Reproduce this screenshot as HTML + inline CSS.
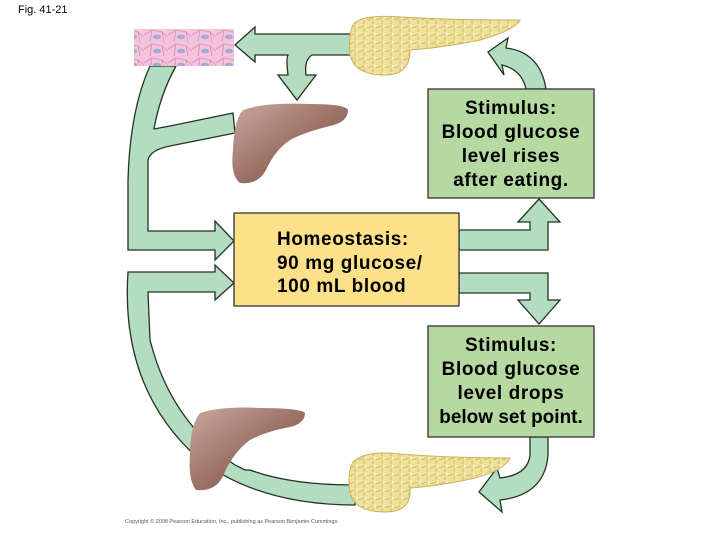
<!DOCTYPE html>
<html><head><meta charset="utf-8"><style>
body{margin:0;background:#fff;}
svg{display:block;}
text{font-family:"Liberation Sans",Arial,sans-serif;}
</style></head><body>
<svg width="720" height="540" viewBox="0 0 720 540" xmlns="http://www.w3.org/2000/svg">
<defs>
<pattern id="cells" width="24" height="14" patternUnits="userSpaceOnUse">
<rect width="24" height="14" fill="#f3c4dc"/>
<path d="M0 7 L8 2 L18 4 L24 9 M8 2 L6 14 M18 4 L20 14" stroke="#d98bb5" stroke-width="0.8" fill="none"/>
<ellipse cx="13" cy="9" rx="4" ry="2.3" fill="#a9a6d6"/>
</pattern>
<pattern id="panc" width="9" height="8" patternUnits="userSpaceOnUse">
<rect width="9" height="8" fill="#efe09a"/>
<path d="M0 4 Q4 0 9 4 M4 4 L4 8" stroke="#c9b25a" stroke-width="0.8" fill="none"/>
<circle cx="6" cy="2" r="1.2" fill="#fbf4cf"/>
</pattern>
<linearGradient id="liv" x1="0" y1="0" x2="1" y2="1">
<stop offset="0" stop-color="#c9a89e"/><stop offset="0.5" stop-color="#9d7367"/><stop offset="1" stop-color="#6f4a40"/>
</linearGradient>
</defs>
<g fill="#b4dcc0" stroke="#223322" stroke-width="1.3" stroke-linejoin="miter">
<path d="M355 34 L255 34 L255 27 L235 45 L255 62 L255 55 L288 55 Q286 58 288 75 L278 75 L297 100 L316 75 L306 75 Q304 60 312 55 L355 55 Z"/>
<path d="M150 66 Q130 110 128 180 L128 250 L215 250 L215 260 L234 241 L215 221 L215 231 L148 231 L148 160 Q150 150 170 146 L235 133 L233 113 L170 126 L154 129 Q160 95 176 66 Z"/>
<path d="M215 265 L215 272 L128 272 Q120 390 200 460 Q260 505 355 505 L355 485 Q290 485 250 470 L245 470 L235 465 Q170 420 150 340 L148 292 L215 292 L215 300 L234 283 Z"/>
<path d="M459 230 L530 230 L530 222 L518 222 L539 199 L560 222 L548 222 L548 250 L459 250 Z"/>
<path d="M459 273 L548 273 L548 300 L560 300 L539 324 L518 300 L530 300 L530 293 L459 293 Z"/>
<path d="M526 89 Q522 70 502 65 L504 75 L488 52 L508 38 L506 48 Q540 52 546 89 Z"/>
<path d="M530 437 L530 455 Q528 475 500 478 L497 468 L479 492 L502 512 L500 500 Q545 495 548 455 L548 437 Z"/>
</g>
<rect x="134" y="29" width="100" height="37" fill="url(#cells)"/>
<path d="M353 25 Q360 14 400 17 Q450 20 520 20 Q515 30 480 40 Q440 48 410 50 Q410 75 385 75 Q355 75 350 55 Q348 35 353 25 Z" fill="url(#panc)" stroke="#c9b25a" stroke-width="1"/>
<path d="M353 462 Q365 450 400 454 Q450 458 510 458 Q505 470 475 478 Q440 486 410 488 Q412 512 385 512 Q355 512 350 493 Q347 472 353 462 Z" fill="url(#panc)" stroke="#c9b25a" stroke-width="1"/>
<path d="M243 110 Q265 102 310 104 Q345 104 348 110 Q348 122 330 126 Q305 132 290 140 Q275 150 266 170 Q258 185 240 183 Q230 175 233 150 Q234 120 243 110 Z" fill="url(#liv)"/>
<path d="M200 413 Q222 406 260 408 Q300 408 305 413 Q305 425 285 428 Q265 432 250 440 Q233 452 222 478 Q214 492 196 490 Q188 480 190 455 Q190 425 200 413 Z" fill="url(#liv)"/>
<rect x="234" y="213" width="225" height="93" fill="#fde08a" stroke="#333" stroke-width="1.3"/>
<text font-size="19" font-weight="bold" letter-spacing="0.6" fill="#000"><tspan x="277" y="245">Homeostasis:</tspan><tspan x="277" y="269">90 mg glucose/</tspan><tspan x="277" y="292">100 mL blood</tspan></text>
<rect x="428" y="89" width="166" height="109" fill="#b6d9a1" stroke="#333" stroke-width="1.3"/>
<text font-size="19" font-weight="bold" letter-spacing="0.6" fill="#000" text-anchor="middle"><tspan x="511" y="114">Stimulus:</tspan><tspan x="511" y="138">Blood glucose</tspan><tspan x="511" y="162">level rises</tspan><tspan x="511" y="186">after eating.</tspan></text>
<rect x="428" y="326" width="166" height="111" fill="#b6d9a1" stroke="#333" stroke-width="1.3"/>
<text font-size="19" font-weight="bold" letter-spacing="0.6" fill="#000" text-anchor="middle"><tspan x="511" y="351">Stimulus:</tspan><tspan x="511" y="375">Blood glucose</tspan><tspan x="511" y="399">level drops</tspan><tspan x="511" y="423" letter-spacing="0">below set point.</tspan></text>
<text x="18" y="13" font-size="11" fill="#000">Fig. 41-21</text>
<text x="125" y="523" font-size="5.5" fill="#555">Copyright © 2008 Pearson Education, Inc., publishing as Pearson Benjamin Cummings.</text>
</svg>
</body></html>
